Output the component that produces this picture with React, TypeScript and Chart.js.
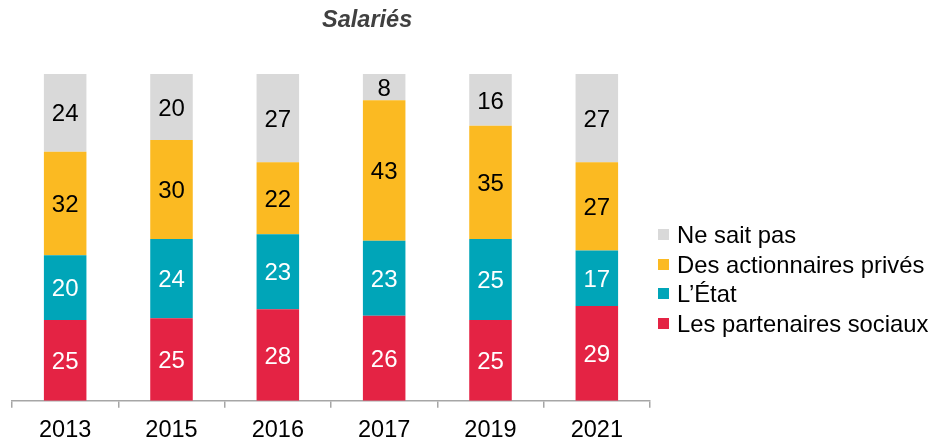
import React, { useEffect, useRef } from "react";
import { Chart, registerables } from "chart.js";

Chart.register(...registerables);

const FONT = "'Liberation Sans', Arial, Helvetica, sans-serif";

const title = "Salariés";
const categories = ["2013", "2015", "2016", "2017", "2019", "2021"];
const partenairesSociaux = [25, 25, 28, 26, 25, 29];
const etat = [20, 24, 23, 23, 25, 17];
const actionnairesPrives = [32, 30, 22, 43, 35, 27];
const neSaitPas = [24, 20, 27, 8, 16, 27];
const seriesNames = ["Les partenaires sociaux", "L’État", "Des actionnaires privés", "Ne sait pas"];
const seriesColors = ["#E42344", "#00A5B8", "#FBBA22", "#D9D9D9"];
const labelColors = ["#FFFFFF", "#FFFFFF", "#000000", "#000000"];

const titlePlugin = {
  id: "customTitle",
  afterDraw(chart: any) {
    const ctx = chart.ctx;
    ctx.save();
    ctx.font = `italic bold 23.5px ${FONT}`;
    ctx.fillStyle = "#404040";
    ctx.textAlign = "center";
    ctx.textBaseline = "middle";
    ctx.fillText(title, chart.width * 0.3935, 21);
    ctx.restore();
  },
};

const labelPlugin = {
  id: "segmentLabels",
  afterDatasetsDraw(chart: any) {
    const ctx = chart.ctx;
    ctx.save();
    ctx.font = `24px ${FONT}`;
    ctx.textAlign = "center";
    ctx.textBaseline = "middle";
    chart.data.datasets.forEach((ds: any, k: number) => {
      const meta = chart.getDatasetMeta(k);
      meta.data.forEach((el: any, i: number) => {
        ctx.fillStyle = labelColors[k];
        ctx.fillText(String(ds.rawValues[i]), el.x, (el.y + el.base) / 2 + 2);
      });
    });
    ctx.restore();
  },
};

export default function App() {
  const ref = useRef<HTMLCanvasElement>(null);
  useEffect(() => {
    document.body.style.margin = "0";
    const series = [partenairesSociaux, etat, actionnairesPrives, neSaitPas];
    const totals = categories.map((_, i) => series.reduce((s, a) => s + a[i], 0));
    const chart = new Chart(ref.current as HTMLCanvasElement, {
      type: "bar",
      data: {
        labels: categories,
        datasets: series.map((vals, k) => ({
          label: seriesNames[k],
          data: vals.map((v, i) => (v / totals[i]) * 100),
          rawValues: vals,
          backgroundColor: seriesColors[k],
          borderWidth: 0,
          barPercentage: 0.4,
          categoryPercentage: 1,
        })) as any,
      },
      options: {
        responsive: false,
        animation: false,
        layout: { padding: { left: 12, right: 283, top: 74, bottom: 4 } },
        plugins: {
          legend: { display: false },
          title: { display: false },
          tooltip: { enabled: false },
        },
        scales: {
          x: {
            stacked: true,
            grid: {
              display: true,
              drawOnChartArea: false,
              drawTicks: true,
              tickLength: 7,
              color: "#A6A6A6",
              lineWidth: 1.5,
              offset: true,
            },
            border: { display: true, color: "#A6A6A6", width: 1.5 },
            ticks: {
              color: "#000000",
              font: { size: 23.5, family: FONT },
              padding: 9,
              maxRotation: 0,
              autoSkip: false,
            },
          },
          y: { stacked: true, display: false, min: 0, max: 100 },
        },
      },
      plugins: [titlePlugin, labelPlugin],
    });
    return () => chart.destroy();
  }, []);

  const legendOrder = [3, 2, 1, 0];
  return (
    <div style={{ position: "relative", width: 933, height: 441, overflow: "hidden", background: "#fff" }}>
      <canvas ref={ref} width={933} height={458} style={{ display: "block" }} />
      <div
        style={{
          position: "absolute",
          left: 658,
          top: 220,
          fontFamily: FONT,
          fontSize: 23.8,
          lineHeight: "29.5px",
          color: "#000",
        }}
      >
        {legendOrder.map((k) => (
          <div key={k} style={{ display: "flex", alignItems: "center", whiteSpace: "nowrap" }}>
            <span style={{ display: "inline-block", width: 11, height: 11, background: seriesColors[k], marginRight: 8 }} />
            <span>{seriesNames[k]}</span>
          </div>
        ))}
      </div>
    </div>
  );
}
